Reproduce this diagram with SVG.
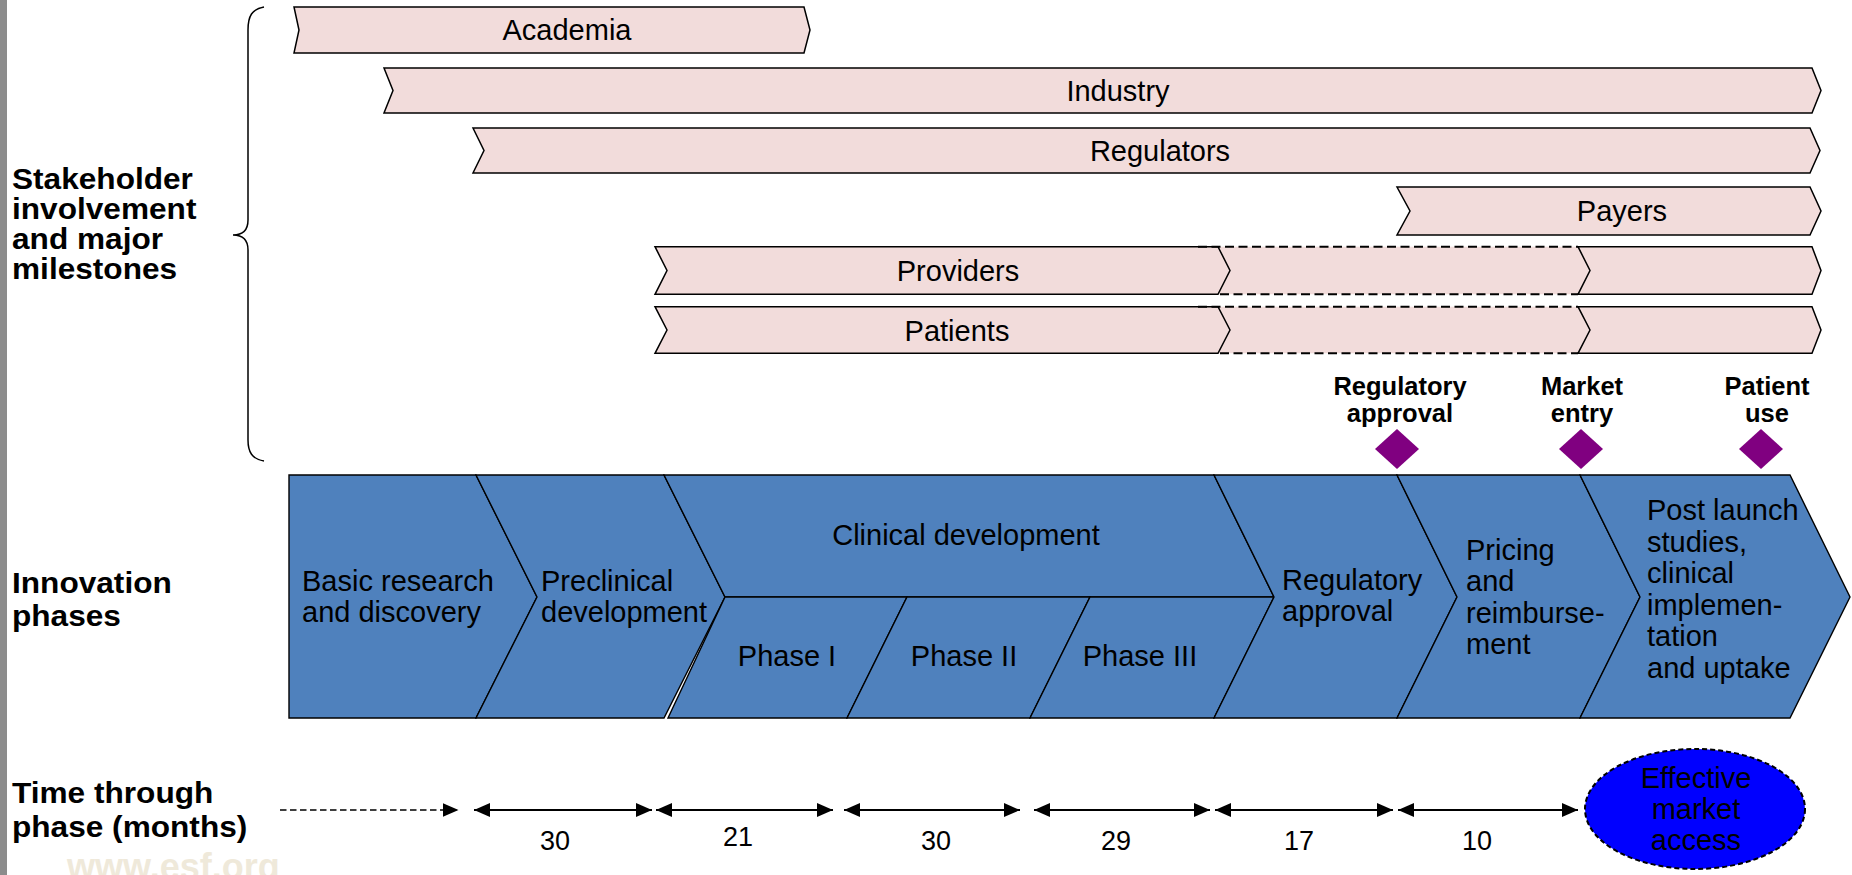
<svg xmlns="http://www.w3.org/2000/svg" width="1852" height="875" viewBox="0 0 1852 875">
<defs>
<style>
.bar{fill:#f2dcdb;stroke:#000;stroke-width:1.5;stroke-linejoin:miter}
.fillonly{fill:#f2dcdb;stroke:none}
.ph{fill:#4f81bd;stroke:#000;stroke-width:1.4;stroke-linejoin:miter}
.t{font-family:"Liberation Sans",Arial,Helvetica,sans-serif;font-size:29px;fill:#000}
.c{text-anchor:middle}
.b{font-family:"Liberation Sans",Arial,Helvetica,sans-serif;font-weight:bold;fill:#000}
.lab{font-size:29px}
.ms{font-size:25.5px;text-anchor:middle}
.num{font-family:"Liberation Sans",Arial,Helvetica,sans-serif;font-size:27px;text-anchor:middle;fill:#000}
.dsh{stroke:#000;stroke-width:2;stroke-dasharray:9 4.5;fill:none}
.arr{stroke:#000;stroke-width:2;fill:none;marker-start:url(#ah);marker-end:url(#ah)}
.dia{fill:#800080}
</style>
<marker id="ah" markerUnits="userSpaceOnUse" markerWidth="16" markerHeight="14" refX="16" refY="7" orient="auto-start-reverse" viewBox="0 0 16 14">
<path d="M0,0L16,7L0,14z" fill="#000"/>
</marker>
</defs>
<rect x="0" y="0" width="1852" height="875" fill="#fff"/>
<rect x="0" y="0" width="7" height="875" fill="#8c8c8c"/>
<text x="67" y="879" font-family="Liberation Sans, Arial, sans-serif" font-weight="bold" font-size="36" fill="#efe9da">www.esf.org</text>

<g id="labels">
<text class="b lab" transform="translate(12,189.3) scale(1.09,1)">Stakeholder</text>
<text class="b lab" transform="translate(12,219.3) scale(1.09,1)">involvement</text>
<text class="b lab" transform="translate(12,249.3) scale(1.09,1)">and major</text>
<text class="b lab" transform="translate(12,279.3) scale(1.09,1)">milestones</text>
<text class="b lab" transform="translate(12,593.3) scale(1.09,1)">Innovation</text>
<text class="b lab" transform="translate(12,625.5) scale(1.09,1)">phases</text>
<text class="b lab" transform="translate(12,803.3) scale(1.09,1)">Time through</text>
<text class="b lab" transform="translate(12,836.5) scale(1.09,1)">phase (months)</text>
</g>

<path id="brace" d="M264,7 C252,9 248,16 248,30 L248,220 C248,230 243,235 233,235 C243,235 248,240 248,250 L248,440 C248,452 252,459 264,461" fill="none" stroke="#000" stroke-width="1.5"/>

<g id="academia"><polygon class="bar" points="294,7 804,7 810,30 804,53 294,53 299,30"/><text class="t c" x="567" y="40">Academia</text></g>
<g id="industry"><polygon class="bar" points="384,68 1812,68 1821,90.5 1812,113 384,113 393,90.5"/><text class="t c" x="1118" y="100.5">Industry</text></g>
<g id="regulators"><polygon class="bar" points="473,128 1810,128 1820,150.5 1810,173 473,173 484,150.5"/><text class="t c" x="1160" y="160.5">Regulators</text></g>
<g id="payers"><polygon class="bar" points="1397,187 1810,187 1821,211 1810,235 1397,235 1410,211"/><text class="t c" x="1622" y="221">Payers</text></g>
<g id="providers">
<rect class="fillonly" x="1218" y="246.7" width="372" height="47.6"/>
<polygon class="bar" points="655,246.7 1218,246.7 1230,270.5 1218,294.3 655,294.3 667,270.5"/>
<polygon class="bar" points="1578,246.7 1812,246.7 1821,270.5 1812,294.3 1578,294.3 1590,270.5"/>
<line class="dsh" x1="1198" y1="246.7" x2="1578" y2="246.7"/>
<line class="dsh" x1="1220" y1="294.3" x2="1578" y2="294.3"/>
<text class="t c" x="958" y="281">Providers</text>
</g>
<g id="patients">
<rect class="fillonly" x="1218" y="306.7" width="372" height="46.6"/>
<polygon class="bar" points="655,306.7 1218,306.7 1230,330 1218,353.3 655,353.3 667,330"/>
<polygon class="bar" points="1578,306.7 1812,306.7 1821,330 1812,353.3 1578,353.3 1590,330"/>
<line class="dsh" x1="1198" y1="306.7" x2="1578" y2="306.7"/>
<line class="dsh" x1="1220" y1="353.3" x2="1578" y2="353.3"/>
<text class="t c" x="957" y="340.5">Patients</text>
</g>

<g id="milestones">
<g id="ms-reg"><text class="b ms" x="1400" y="395">Regulatory</text><text class="b ms" x="1400" y="421.7">approval</text><polygon class="dia" points="1397,429 1419,449 1397,469 1375,449"/></g>
<g id="ms-market"><text class="b ms" x="1582" y="395">Market</text><text class="b ms" x="1582" y="421.7">entry</text><polygon class="dia" points="1581,429 1603,449 1581,469 1559,449"/></g>
<g id="ms-patient"><text class="b ms" x="1767" y="395">Patient</text><text class="b ms" x="1767" y="421.7">use</text><polygon class="dia" points="1761,429 1783,449 1761,469 1739,449"/></g>
</g>

<g id="phase-basic"><polygon class="ph" points="289,475 476,475 537,597 476,718 289,718"/>
<text class="t" x="302" y="590.7">Basic research</text><text class="t" x="302" y="621.7">and discovery</text></g>
<g id="phase-preclinical"><polygon class="ph" points="476,475 664,475 725,597 664,718 476,718 537,597"/>
<text class="t" x="541" y="590.7">Preclinical</text><text class="t" x="541" y="621.7">development</text></g>
<g id="phase-clinical"><polygon class="ph" points="664,475 1214,475 1274,597 725,597"/>
<text class="t c" x="966" y="545">Clinical development</text></g>
<g id="phase-1"><polygon class="ph" points="725,597 907,597 847,718 668,718"/><text class="t c" x="787" y="666">Phase I</text></g>
<g id="phase-2"><polygon class="ph" points="907,597 1090,597 1030,718 847,718"/><text class="t c" x="964" y="666">Phase II</text></g>
<g id="phase-3"><polygon class="ph" points="1090,597 1274,597 1214,718 1030,718"/><text class="t c" x="1140" y="666">Phase III</text></g>
<g id="phase-regulatory"><polygon class="ph" points="1214,475 1397,475 1457,597 1397,718 1214,718 1274,597"/>
<text class="t" x="1282" y="590">Regulatory</text><text class="t" x="1282" y="621">approval</text></g>
<g id="phase-pricing"><polygon class="ph" points="1397,475 1580,475 1640,597 1580,718 1397,718 1457,597"/>
<text class="t" x="1466" y="560">Pricing</text><text class="t" x="1466" y="591.3">and</text><text class="t" x="1466" y="622.6">reimburse-</text><text class="t" x="1466" y="653.9">ment</text></g>
<g id="phase-post"><polygon class="ph" points="1580,475 1790,475 1850,597 1790,718 1580,718 1640,597"/>
<text class="t" x="1647" y="520">Post launch</text><text class="t" x="1647" y="551.5">studies,</text><text class="t" x="1647" y="583">clinical</text><text class="t" x="1647" y="614.5">implemen-</text><text class="t" x="1647" y="646">tation</text><text class="t" x="1647" y="677.5">and uptake</text></g>

<g id="connectors">
<line x1="280" y1="810" x2="458.5" y2="810" stroke="#000" stroke-width="1.5" stroke-dasharray="6.5 3.5" marker-end="url(#ah)"/>
<line class="arr" x1="474" y1="810" x2="652" y2="810"/>
<line class="arr" x1="656" y1="810" x2="833" y2="810"/>
<line class="arr" x1="844" y1="810" x2="1020" y2="810"/>
<line class="arr" x1="1034" y1="810" x2="1210" y2="810"/>
<line class="arr" x1="1215" y1="810" x2="1393" y2="810"/>
<line class="arr" x1="1398" y1="810" x2="1578" y2="810"/>
</g>
<g id="durations">
<text class="num" x="555" y="850">30</text>
<text class="num" x="738" y="846">21</text>
<text class="num" x="936" y="850">30</text>
<text class="num" x="1116" y="850">29</text>
<text class="num" x="1299" y="850">17</text>
<text class="num" x="1477" y="850">10</text>
</g>

<g id="effective-market-access">
<ellipse cx="1695" cy="809" rx="110" ry="60" fill="#0000ff" stroke="#000" stroke-width="2" stroke-dasharray="5 3"/>
<text class="t c" x="1696" y="788" font-size="28">Effective</text>
<text class="t c" x="1696" y="819" font-size="28">market</text>
<text class="t c" x="1696" y="850" font-size="28">access</text>
</g>
</svg>
